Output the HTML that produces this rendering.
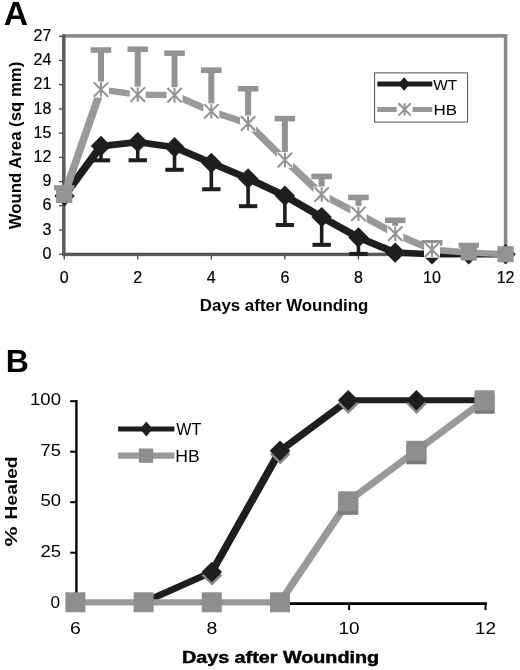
<!DOCTYPE html>
<html><head><meta charset="utf-8"><style>
html,body{margin:0;padding:0;background:#fff;width:520px;height:670px;overflow:hidden}
svg{display:block;filter:grayscale(100%)}
text{font-family:"Liberation Sans", sans-serif}
</style></head><body>
<svg width="520" height="670" viewBox="0 0 520 670">
<rect width="520" height="670" fill="#fff"/>
<text x="3.7" y="24.8" font-size="33.3" font-weight="bold" fill="#000" textLength="24.3" lengthAdjust="spacingAndGlyphs">A</text>
<rect x="63.8" y="35.9" width="441.8" height="218.5" fill="none" stroke="#8a8a8a" stroke-width="3.6"/>
<line x1="59" y1="254.2" x2="64" y2="254.2" stroke="#444" stroke-width="1.3"/>
<text x="51.3" y="258.9" font-size="16" text-anchor="end" fill="#000" stroke="#000" stroke-width="0.2">0</text>
<line x1="59" y1="229.99" x2="64" y2="229.99" stroke="#444" stroke-width="1.3"/>
<text x="51.3" y="234.69" font-size="16" text-anchor="end" fill="#000" stroke="#000" stroke-width="0.2">3</text>
<line x1="59" y1="205.78" x2="64" y2="205.78" stroke="#444" stroke-width="1.3"/>
<text x="51.3" y="210.48" font-size="16" text-anchor="end" fill="#000" stroke="#000" stroke-width="0.2">6</text>
<line x1="59" y1="181.57" x2="64" y2="181.57" stroke="#444" stroke-width="1.3"/>
<text x="51.3" y="186.27" font-size="16" text-anchor="end" fill="#000" stroke="#000" stroke-width="0.2">9</text>
<line x1="59" y1="157.36" x2="64" y2="157.36" stroke="#444" stroke-width="1.3"/>
<text x="51.3" y="162.06" font-size="16" text-anchor="end" fill="#000" stroke="#000" stroke-width="0.2">12</text>
<line x1="59" y1="133.15" x2="64" y2="133.15" stroke="#444" stroke-width="1.3"/>
<text x="51.3" y="137.85" font-size="16" text-anchor="end" fill="#000" stroke="#000" stroke-width="0.2">15</text>
<line x1="59" y1="108.94" x2="64" y2="108.94" stroke="#444" stroke-width="1.3"/>
<text x="51.3" y="113.64" font-size="16" text-anchor="end" fill="#000" stroke="#000" stroke-width="0.2">18</text>
<line x1="59" y1="84.73" x2="64" y2="84.73" stroke="#444" stroke-width="1.3"/>
<text x="51.3" y="89.43" font-size="16" text-anchor="end" fill="#000" stroke="#000" stroke-width="0.2">21</text>
<line x1="59" y1="60.52" x2="64" y2="60.52" stroke="#444" stroke-width="1.3"/>
<text x="51.3" y="65.22" font-size="16" text-anchor="end" fill="#000" stroke="#000" stroke-width="0.2">24</text>
<line x1="59" y1="36.31" x2="64" y2="36.31" stroke="#444" stroke-width="1.3"/>
<text x="51.3" y="41.01" font-size="16" text-anchor="end" fill="#000" stroke="#000" stroke-width="0.2">27</text>
<line x1="64.2" y1="254" x2="64.2" y2="259.5" stroke="#444" stroke-width="1.3"/>
<text x="64.2" y="283.4" font-size="16" text-anchor="middle" fill="#000" stroke="#000" stroke-width="0.2">0</text>
<line x1="137.76" y1="254" x2="137.76" y2="259.5" stroke="#444" stroke-width="1.3"/>
<text x="137.76" y="283.4" font-size="16" text-anchor="middle" fill="#000" stroke="#000" stroke-width="0.2">2</text>
<line x1="211.32" y1="254" x2="211.32" y2="259.5" stroke="#444" stroke-width="1.3"/>
<text x="211.32" y="283.4" font-size="16" text-anchor="middle" fill="#000" stroke="#000" stroke-width="0.2">4</text>
<line x1="284.88" y1="254" x2="284.88" y2="259.5" stroke="#444" stroke-width="1.3"/>
<text x="284.88" y="283.4" font-size="16" text-anchor="middle" fill="#000" stroke="#000" stroke-width="0.2">6</text>
<line x1="358.44" y1="254" x2="358.44" y2="259.5" stroke="#444" stroke-width="1.3"/>
<text x="358.44" y="283.4" font-size="16" text-anchor="middle" fill="#000" stroke="#000" stroke-width="0.2">8</text>
<line x1="432" y1="254" x2="432" y2="259.5" stroke="#444" stroke-width="1.3"/>
<text x="432" y="283.4" font-size="16" text-anchor="middle" fill="#000" stroke="#000" stroke-width="0.2">10</text>
<line x1="505.56" y1="254" x2="505.56" y2="259.5" stroke="#444" stroke-width="1.3"/>
<text x="505.56" y="283.4" font-size="16" text-anchor="middle" fill="#000" stroke="#000" stroke-width="0.2">12</text>
<line x1="63.8" y1="34.5" x2="63.8" y2="255.6" stroke="#5c5c5c" stroke-width="3"/>
<line x1="62.3" y1="254.4" x2="507" y2="254.4" stroke="#555" stroke-width="2.6"/>
<text x="284.1" y="310.8" font-size="16" font-weight="bold" text-anchor="middle" fill="#000" textLength="168.6" lengthAdjust="spacingAndGlyphs">Days after Wounding</text>
<text transform="translate(21.2,145.5) rotate(-90)" font-size="16" font-weight="bold" text-anchor="middle" fill="#000" textLength="167.5" lengthAdjust="spacingAndGlyphs">Wound Area (sq mm)</text>
<line x1="100.98" y1="146.06" x2="100.98" y2="160.35" stroke="#1e1e1e" stroke-width="3.6"/>
<rect x="91.78" y="158.35" width="18.4" height="4" fill="#1e1e1e"/>
<line x1="137.76" y1="142.11" x2="137.76" y2="160.27" stroke="#1e1e1e" stroke-width="3.6"/>
<rect x="128.56" y="158.27" width="18.4" height="4" fill="#1e1e1e"/>
<line x1="174.54" y1="147.27" x2="174.54" y2="169.79" stroke="#1e1e1e" stroke-width="3.6"/>
<rect x="165.34" y="167.79" width="18.4" height="4" fill="#1e1e1e"/>
<line x1="211.32" y1="163.01" x2="211.32" y2="189.24" stroke="#1e1e1e" stroke-width="3.6"/>
<rect x="202.12" y="187.24" width="18.4" height="4" fill="#1e1e1e"/>
<line x1="248.1" y1="178.5" x2="248.1" y2="206.18" stroke="#1e1e1e" stroke-width="3.6"/>
<rect x="238.9" y="204.18" width="18.4" height="4" fill="#1e1e1e"/>
<line x1="284.88" y1="195.77" x2="284.88" y2="224.99" stroke="#1e1e1e" stroke-width="3.6"/>
<rect x="275.68" y="222.99" width="18.4" height="4" fill="#1e1e1e"/>
<line x1="321.66" y1="217.08" x2="321.66" y2="244.84" stroke="#1e1e1e" stroke-width="3.6"/>
<rect x="312.46" y="242.84" width="18.4" height="4" fill="#1e1e1e"/>
<line x1="358.44" y1="237.5" x2="358.44" y2="253.88" stroke="#1e1e1e" stroke-width="3.6"/>
<rect x="349.24" y="251.88" width="18.4" height="4" fill="#1e1e1e"/>
<line x1="64.2" y1="196.02" x2="100.98" y2="146.06" stroke="#1e1e1e" stroke-width="7.79" stroke-linecap="round"/>
<line x1="100.98" y1="146.06" x2="137.76" y2="142.11" stroke="#1e1e1e" stroke-width="6.67" stroke-linecap="round"/>
<line x1="137.76" y1="142.11" x2="174.54" y2="147.27" stroke="#1e1e1e" stroke-width="6.72" stroke-linecap="round"/>
<line x1="174.54" y1="147.27" x2="211.32" y2="163.01" stroke="#1e1e1e" stroke-width="7.13" stroke-linecap="round"/>
<line x1="211.32" y1="163.01" x2="248.1" y2="178.5" stroke="#1e1e1e" stroke-width="7.12" stroke-linecap="round"/>
<line x1="248.1" y1="178.5" x2="284.88" y2="195.77" stroke="#1e1e1e" stroke-width="7.18" stroke-linecap="round"/>
<line x1="284.88" y1="195.77" x2="321.66" y2="217.08" stroke="#1e1e1e" stroke-width="7.3" stroke-linecap="round"/>
<line x1="321.66" y1="217.08" x2="358.44" y2="237.5" stroke="#1e1e1e" stroke-width="7.28" stroke-linecap="round"/>
<line x1="358.44" y1="237.5" x2="395.22" y2="252.59" stroke="#1e1e1e" stroke-width="7.11" stroke-linecap="round"/>
<line x1="395.22" y1="252.59" x2="432" y2="254.2" stroke="#1e1e1e" stroke-width="6.57" stroke-linecap="round"/>
<line x1="432" y1="254.2" x2="468.78" y2="254.2" stroke="#1e1e1e" stroke-width="6.5" stroke-linecap="round"/>
<line x1="468.78" y1="254.2" x2="505.56" y2="254.2" stroke="#1e1e1e" stroke-width="6.5" stroke-linecap="round"/>
<path d="M64.5 185.82L74.7 196.02L64.5 206.22L54.3 196.02Z" fill="#1e1e1e"/>
<path d="M100.98 135.86L111.18 146.06L100.98 156.26L90.78 146.06Z" fill="#1e1e1e"/>
<path d="M137.76 131.91L147.96 142.11L137.76 152.31L127.56 142.11Z" fill="#1e1e1e"/>
<path d="M174.54 137.07L184.74 147.27L174.54 157.47L164.34 147.27Z" fill="#1e1e1e"/>
<path d="M211.32 152.81L221.52 163.01L211.32 173.21L201.12 163.01Z" fill="#1e1e1e"/>
<path d="M248.1 168.3L258.3 178.5L248.1 188.7L237.9 178.5Z" fill="#1e1e1e"/>
<path d="M284.88 185.57L295.08 195.77L284.88 205.97L274.68 195.77Z" fill="#1e1e1e"/>
<path d="M321.66 206.88L331.86 217.08L321.66 227.28L311.46 217.08Z" fill="#1e1e1e"/>
<path d="M358.44 227.3L368.64 237.5L358.44 247.7L348.24 237.5Z" fill="#1e1e1e"/>
<path d="M395.22 242.39L405.42 252.59L395.22 262.79L385.02 252.59Z" fill="#1e1e1e"/>
<path d="M432 244L442.2 254.2L432 264.4L421.8 254.2Z" fill="#1e1e1e"/>
<path d="M468.78 244L478.98 254.2L468.78 264.4L458.58 254.2Z" fill="#1e1e1e"/>
<path d="M505.56 244L515.76 254.2L505.56 264.4L495.36 254.2Z" fill="#1e1e1e"/>
<line x1="100.98" y1="89.57" x2="100.98" y2="50.03" stroke="#939393" stroke-width="6"/>
<rect x="90.68" y="47.23" width="20.6" height="5.6" fill="#939393"/>
<line x1="137.76" y1="94.58" x2="137.76" y2="49.22" stroke="#939393" stroke-width="6"/>
<rect x="127.46" y="46.42" width="20.6" height="5.6" fill="#939393"/>
<line x1="174.54" y1="95.22" x2="174.54" y2="53.26" stroke="#939393" stroke-width="6"/>
<rect x="164.24" y="50.46" width="20.6" height="5.6" fill="#939393"/>
<line x1="211.32" y1="111.36" x2="211.32" y2="70.2" stroke="#939393" stroke-width="6"/>
<rect x="201.02" y="67.4" width="20.6" height="5.6" fill="#939393"/>
<line x1="248.1" y1="123.47" x2="248.1" y2="88.76" stroke="#939393" stroke-width="6"/>
<rect x="237.8" y="85.96" width="20.6" height="5.6" fill="#939393"/>
<line x1="284.88" y1="160.02" x2="284.88" y2="118.62" stroke="#939393" stroke-width="6"/>
<rect x="274.58" y="115.82" width="20.6" height="5.6" fill="#939393"/>
<line x1="321.66" y1="194.48" x2="321.66" y2="176.41" stroke="#939393" stroke-width="6"/>
<rect x="311.36" y="173.61" width="20.6" height="5.6" fill="#939393"/>
<line x1="358.44" y1="213.85" x2="358.44" y2="197.47" stroke="#939393" stroke-width="6"/>
<rect x="348.14" y="194.67" width="20.6" height="5.6" fill="#939393"/>
<line x1="395.22" y1="233.78" x2="395.22" y2="220.31" stroke="#939393" stroke-width="6"/>
<rect x="384.92" y="217.51" width="20.6" height="5.6" fill="#939393"/>
<line x1="432" y1="249.76" x2="432" y2="242.98" stroke="#939393" stroke-width="6"/>
<rect x="421.7" y="240.18" width="20.6" height="5.6" fill="#939393"/>
<line x1="64.2" y1="194.97" x2="100.98" y2="89.57" stroke="#999999" stroke-width="7.71" stroke-linecap="round"/>
<line x1="100.98" y1="89.57" x2="137.76" y2="94.58" stroke="#999999" stroke-width="6.42" stroke-linecap="round"/>
<line x1="137.76" y1="94.58" x2="174.54" y2="95.22" stroke="#999999" stroke-width="6.23" stroke-linecap="round"/>
<line x1="174.54" y1="95.22" x2="211.32" y2="111.36" stroke="#999999" stroke-width="6.84" stroke-linecap="round"/>
<line x1="211.32" y1="111.36" x2="248.1" y2="123.47" stroke="#999999" stroke-width="6.7" stroke-linecap="round"/>
<line x1="248.1" y1="123.47" x2="284.88" y2="160.02" stroke="#999999" stroke-width="7.33" stroke-linecap="round"/>
<line x1="284.88" y1="160.02" x2="321.66" y2="194.48" stroke="#999999" stroke-width="7.29" stroke-linecap="round"/>
<line x1="321.66" y1="194.48" x2="358.44" y2="213.85" stroke="#999999" stroke-width="6.95" stroke-linecap="round"/>
<line x1="358.44" y1="213.85" x2="395.22" y2="233.78" stroke="#999999" stroke-width="6.96" stroke-linecap="round"/>
<line x1="395.22" y1="233.78" x2="432" y2="249.76" stroke="#999999" stroke-width="6.84" stroke-linecap="round"/>
<line x1="432" y1="249.76" x2="468.78" y2="252.51" stroke="#999999" stroke-width="6.32" stroke-linecap="round"/>
<line x1="468.78" y1="252.51" x2="505.56" y2="254.2" stroke="#999999" stroke-width="6.27" stroke-linecap="round"/>
<rect x="56.1" y="186.97" width="16.2" height="16" fill="#939393"/>
<rect x="54" y="185.17" width="20.4" height="5" fill="#939393"/>
<rect x="92.98" y="81.57" width="16" height="16" fill="#fff"/><path d="M93.78 82.37L108.18 96.77M108.18 82.37L93.78 96.77M100.98 82.37L100.98 96.77" stroke="#939393" stroke-width="2" fill="none"/>
<rect x="129.76" y="86.58" width="16" height="16" fill="#fff"/><path d="M130.56 87.38L144.96 101.78M144.96 87.38L130.56 101.78M137.76 87.38L137.76 101.78" stroke="#939393" stroke-width="2" fill="none"/>
<rect x="166.54" y="87.22" width="16" height="16" fill="#fff"/><path d="M167.34 88.02L181.74 102.42M181.74 88.02L167.34 102.42M174.54 88.02L174.54 102.42" stroke="#939393" stroke-width="2" fill="none"/>
<rect x="203.32" y="103.36" width="16" height="16" fill="#fff"/><path d="M204.12 104.16L218.52 118.56M218.52 104.16L204.12 118.56M211.32 104.16L211.32 118.56" stroke="#939393" stroke-width="2" fill="none"/>
<rect x="240.1" y="115.47" width="16" height="16" fill="#fff"/><path d="M240.9 116.27L255.3 130.67M255.3 116.27L240.9 130.67M248.1 116.27L248.1 130.67" stroke="#939393" stroke-width="2" fill="none"/>
<rect x="276.88" y="152.02" width="16" height="16" fill="#fff"/><path d="M277.68 152.82L292.08 167.22M292.08 152.82L277.68 167.22M284.88 152.82L284.88 167.22" stroke="#939393" stroke-width="2" fill="none"/>
<rect x="313.66" y="186.48" width="16" height="16" fill="#fff"/><path d="M314.46 187.28L328.86 201.68M328.86 187.28L314.46 201.68M321.66 187.28L321.66 201.68" stroke="#939393" stroke-width="2" fill="none"/>
<rect x="350.44" y="205.85" width="16" height="16" fill="#fff"/><path d="M351.24 206.65L365.64 221.05M365.64 206.65L351.24 221.05M358.44 206.65L358.44 221.05" stroke="#939393" stroke-width="2" fill="none"/>
<rect x="387.22" y="225.78" width="16" height="16" fill="#fff"/><path d="M388.02 226.58L402.42 240.98M402.42 226.58L388.02 240.98M395.22 226.58L395.22 240.98" stroke="#939393" stroke-width="2" fill="none"/>
<rect x="424" y="241.76" width="16" height="16" fill="#fff"/><path d="M424.8 242.56L439.2 256.96M439.2 242.56L424.8 256.96M432 242.56L432 256.96" stroke="#939393" stroke-width="2" fill="none"/>
<rect x="460.68" y="244.51" width="16.2" height="16" fill="#939393"/>
<rect x="458.58" y="242.71" width="20.4" height="5" fill="#939393"/>
<rect x="497.46" y="246.2" width="16.2" height="16" fill="#939393"/>
<rect x="421.7" y="240.18" width="20.6" height="2.8" fill="#939393"/>
<rect x="374.6" y="72.9" width="93" height="49.2" fill="#fff" stroke="#555" stroke-width="1"/>
<line x1="377.3" y1="84" x2="432.3" y2="84" stroke="#1e1e1e" stroke-width="5"/>
<path d="M404.1 77.2L410 84L404.1 90.8L398.2 84Z" fill="#1e1e1e"/>
<text x="433.3" y="90" font-size="15" fill="#000" textLength="24" lengthAdjust="spacingAndGlyphs">WT</text>
<line x1="377.3" y1="109.4" x2="432.3" y2="109.4" stroke="#999999" stroke-width="5"/>
<rect x="396.6" y="101.4" width="16" height="16" fill="#fff"/><path d="M398.4 103.2L410.8 115.6M410.8 103.2L398.4 115.6M404.6 103.2L404.6 115.6" stroke="#939393" stroke-width="2" fill="none"/>
<text x="433.6" y="114.9" font-size="15" fill="#000" textLength="23.6" lengthAdjust="spacingAndGlyphs">HB</text>
<text x="5.8" y="372.3" font-size="32" font-weight="bold" fill="#000">B</text>
<line x1="70.2" y1="603.2" x2="76" y2="603.2" stroke="#000" stroke-width="2"/>
<text x="60.2" y="608.4" font-size="16.2" text-anchor="end" fill="#000" textLength="9.6" lengthAdjust="spacingAndGlyphs">0</text>
<line x1="70.2" y1="552.7" x2="76" y2="552.7" stroke="#000" stroke-width="2"/>
<text x="61" y="556.8" font-size="16.2" text-anchor="end" fill="#000" textLength="20.6" lengthAdjust="spacingAndGlyphs">25</text>
<line x1="70.2" y1="502.2" x2="76" y2="502.2" stroke="#000" stroke-width="2"/>
<text x="61" y="506.3" font-size="16.2" text-anchor="end" fill="#000" textLength="20.5" lengthAdjust="spacingAndGlyphs">50</text>
<line x1="70.2" y1="451.7" x2="76" y2="451.7" stroke="#000" stroke-width="2"/>
<text x="61" y="455.8" font-size="16.2" text-anchor="end" fill="#000" textLength="20.4" lengthAdjust="spacingAndGlyphs">75</text>
<line x1="70.2" y1="401.2" x2="76" y2="401.2" stroke="#000" stroke-width="2"/>
<text x="61" y="405.3" font-size="16.2" text-anchor="end" fill="#000" textLength="31" lengthAdjust="spacingAndGlyphs">100</text>
<line x1="76.3" y1="603" x2="76.3" y2="610" stroke="#000" stroke-width="2"/>
<text x="75.5" y="633.6" font-size="16.2" text-anchor="middle" fill="#000" textLength="10.8" lengthAdjust="spacingAndGlyphs">6</text>
<line x1="212.7" y1="603" x2="212.7" y2="610" stroke="#000" stroke-width="2"/>
<text x="211.9" y="633.6" font-size="16.2" text-anchor="middle" fill="#000" textLength="10.8" lengthAdjust="spacingAndGlyphs">8</text>
<line x1="349.1" y1="603" x2="349.1" y2="610" stroke="#000" stroke-width="2"/>
<text x="349.1" y="633.6" font-size="16.2" text-anchor="middle" fill="#000" textLength="21" lengthAdjust="spacingAndGlyphs">10</text>
<line x1="485.5" y1="603" x2="485.5" y2="610" stroke="#000" stroke-width="2"/>
<text x="485.5" y="633.6" font-size="16.2" text-anchor="middle" fill="#000" textLength="21" lengthAdjust="spacingAndGlyphs">12</text>
<line x1="76.4" y1="400" x2="76.4" y2="604.8" stroke="#000" stroke-width="2.4"/>
<line x1="75.2" y1="603.6" x2="487" y2="603.6" stroke="#000" stroke-width="2.6"/>
<text x="181.9" y="663.4" font-size="16" font-weight="bold" fill="#000" stroke="#000" stroke-width="0.45" textLength="197.2" lengthAdjust="spacingAndGlyphs">Days after Wounding</text>
<text transform="translate(16.9,487.9) rotate(-90)" font-size="17" font-weight="bold" text-anchor="middle" fill="#000" textLength="63" lengthAdjust="spacingAndGlyphs">Healed</text>
<text transform="translate(16.9,536.45) rotate(-90)" font-size="17" font-weight="bold" text-anchor="middle" fill="#000" textLength="20" lengthAdjust="spacingAndGlyphs">%</text>
<line x1="143.6" y1="602.3" x2="211.8" y2="572" stroke="#1e1e1e" stroke-width="6.75" stroke-linecap="round"/>
<line x1="211.8" y1="572" x2="280" y2="450.8" stroke="#1e1e1e" stroke-width="7.49" stroke-linecap="round"/>
<line x1="280" y1="450.8" x2="348.2" y2="400.3" stroke="#1e1e1e" stroke-width="7.05" stroke-linecap="round"/>
<line x1="348.2" y1="400.3" x2="416.4" y2="400.3" stroke="#1e1e1e" stroke-width="6.1" stroke-linecap="round"/>
<line x1="416.4" y1="400.3" x2="484.6" y2="400.3" stroke="#1e1e1e" stroke-width="6.1" stroke-linecap="round"/>
<path d="M212 565.2L222.3 575.5L212 585.8L201.7 575.5Z" fill="#8a8a8a"/>
<path d="M211.8 561.7L222.1 572L211.8 582.3L201.5 572Z" fill="#1e1e1e"/>
<path d="M280.2 444L290.5 454.3L280.2 464.6L269.9 454.3Z" fill="#8a8a8a"/>
<path d="M280 440.5L290.3 450.8L280 461.1L269.7 450.8Z" fill="#1e1e1e"/>
<path d="M348.4 393.5L358.7 403.8L348.4 414.1L338.1 403.8Z" fill="#8a8a8a"/>
<path d="M348.2 390L358.5 400.3L348.2 410.6L337.9 400.3Z" fill="#1e1e1e"/>
<path d="M416.6 393.5L426.9 403.8L416.6 414.1L406.3 403.8Z" fill="#8a8a8a"/>
<path d="M416.4 390L426.7 400.3L416.4 410.6L406.1 400.3Z" fill="#1e1e1e"/>
<line x1="75.4" y1="602.3" x2="143.6" y2="602.3" stroke="#999999" stroke-width="6.2" stroke-linecap="round"/>
<line x1="143.6" y1="602.3" x2="211.8" y2="602.3" stroke="#999999" stroke-width="6.2" stroke-linecap="round"/>
<line x1="211.8" y1="602.3" x2="280" y2="602.3" stroke="#999999" stroke-width="6.2" stroke-linecap="round"/>
<line x1="280" y1="602.3" x2="348.2" y2="501.3" stroke="#999999" stroke-width="7.36" stroke-linecap="round"/>
<line x1="348.2" y1="501.3" x2="416.4" y2="450.8" stroke="#999999" stroke-width="7.03" stroke-linecap="round"/>
<line x1="416.4" y1="450.8" x2="484.6" y2="400.3" stroke="#999999" stroke-width="7.03" stroke-linecap="round"/>
<rect x="65.4" y="592.3" width="20" height="20" fill="#8e8e8e"/>
<rect x="133.6" y="592.3" width="20" height="20" fill="#8e8e8e"/>
<rect x="201.8" y="592.3" width="20" height="20" fill="#8e8e8e"/>
<rect x="270" y="592.3" width="20" height="20" fill="#8e8e8e"/>
<rect x="338.2" y="494.8" width="20" height="20" fill="#7a7a7a"/>
<rect x="338.2" y="491.3" width="20" height="20" fill="#8e8e8e"/>
<rect x="406.4" y="444.3" width="20" height="20" fill="#7a7a7a"/>
<rect x="406.4" y="440.8" width="20" height="20" fill="#8e8e8e"/>
<rect x="474.6" y="393.8" width="20" height="20" fill="#7a7a7a"/>
<rect x="474.6" y="390.3" width="20" height="20" fill="#8e8e8e"/>
<line x1="118.1" y1="429" x2="174.4" y2="429" stroke="#1e1e1e" stroke-width="5"/>
<path d="M146.3 421.6L152.6 429L146.3 436.4L140 429Z" fill="#1e1e1e"/>
<text x="176.3" y="435" font-size="15.6" fill="#000" textLength="25" lengthAdjust="spacingAndGlyphs">WT</text>
<line x1="118.1" y1="455.6" x2="174.4" y2="455.6" stroke="#999999" stroke-width="6.2"/>
<rect x="138.8" y="448.5" width="14.4" height="14.4" fill="#8e8e8e"/>
<text x="175.3" y="462" font-size="15.6" fill="#000" textLength="24.4" lengthAdjust="spacingAndGlyphs">HB</text>
</svg>
</body></html>
